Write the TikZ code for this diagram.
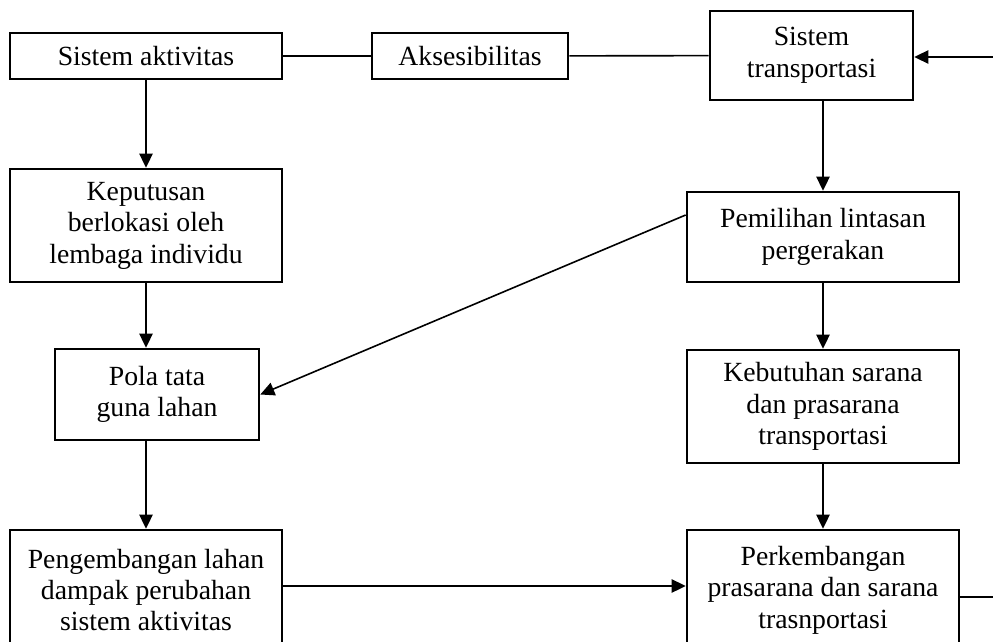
\documentclass[tikz,border=0pt]{standalone}
\usepackage{fontspec}
\setmainfont{Liberation Serif}
\usetikzlibrary{arrows.meta}
\begin{document}
\begin{tikzpicture}[x=0.75pt,y=-0.75pt,
 box/.style={draw, line width=2pt, inner sep=0pt, align=center, font=\fontsize{20.8}{23.6}\selectfont},
 arr/.style={line width=1.2pt, -{Triangle[length=10.5pt,width=10pt]}},
 ln/.style={line width=1.2pt}]
\useasboundingbox (0,0) rectangle (993,642);
\clip (0,0) rectangle (993,642);
\node[box, minimum width=204pt, minimum height=34.5pt] (sa) at (146,56) {Sistem aktivitas};
\node[box, minimum width=147pt, minimum height=34.5pt] (aks) at (470,56) {Aksesibilitas};
\node[box, minimum width=152.25pt, minimum height=66.75pt] (st) at (811.5,55.5) {Sistem\\transportasi};
\node[box, minimum width=204pt, minimum height=84.75pt] (kep) at (146,225.5) {Keputusan\\berlokasi oleh\\lembaga individu};
\node[box, minimum width=153pt, minimum height=68.25pt] (pola) at (157,394.5) {Pola tata\\guna lahan};
\node[box, minimum width=204pt, minimum height=90pt] (peng) at (146,590) {Pengembangan lahan\\dampak perubahan\\sistem aktivitas};
\node[box, minimum width=204pt, minimum height=67.5pt] (pem) at (823,237) {Pemilihan lintasan\\pergerakan};
\node[box, minimum width=204pt, minimum height=84.75pt] (keb) at (823,406.5) {Kebutuhan sarana\\dan prasarana\\transportasi};
\node[box, minimum width=204pt, minimum height=90pt] (perk) at (823,590) {Perkembangan\\prasarana dan sarana\\trasnportasi};
\coordinate (rin) at (993,57);
\coordinate (rout) at (993,597);
\draw[ln] (sa) -- (aks);
\draw[ln] (aks) -- (st);
\draw[arr] (rin) -- (rin -| st.east);
\draw[arr] (sa) -- (kep);
\draw[arr] (kep.south) -- (kep.south |- pola.north);
\draw[arr] (pola.south -| peng.north) -- (peng.north);
\draw[arr] (st.south -| pem.north) -- (pem.north);
\draw[arr] (pem) -- (keb);
\draw[arr] (keb) -- (perk);
\draw[arr] ([yshift=16.5pt]pem.west) -- (pola.east);
\draw[arr] ([yshift=3pt]peng.east) -- ([yshift=3pt]perk.west);
\draw[ln] (rout -| perk.east) -- (rout);
\end{tikzpicture}
\end{document}
